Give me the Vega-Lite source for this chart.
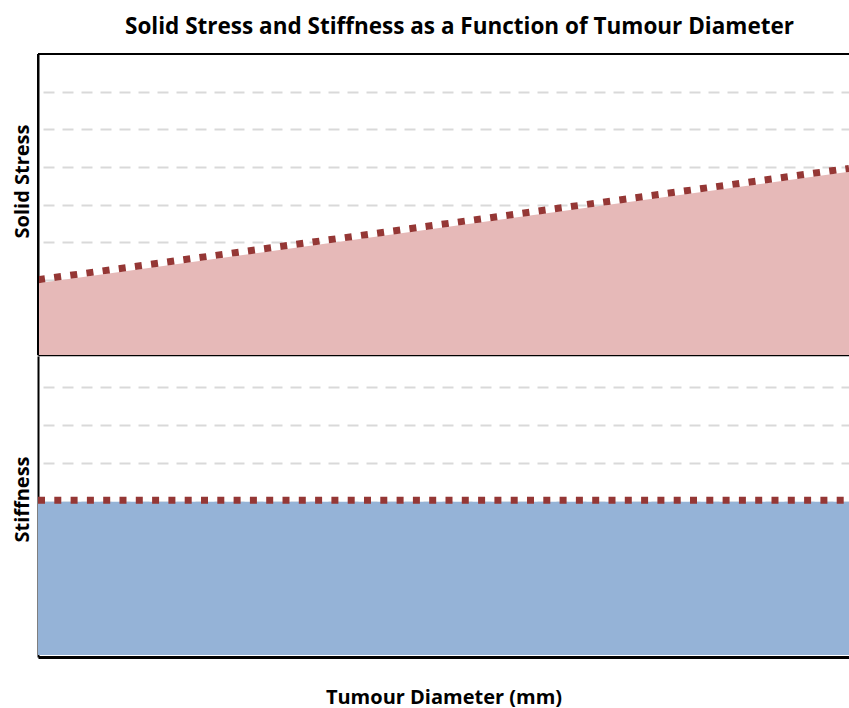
{
  "$schema": "https://vega.github.io/schema/vega-lite/v6.json",
  "padding": {"left": 12, "top": 15, "right": 0, "bottom": 0},
  "background": "white",
  "config": {
    "view": {"stroke": null},
    "font": "Open Sans",
    "concat": {"spacing": 0}
  },
  "title": {
    "text": "Solid Stress and Stiffness as a Function of Tumour Diameter",
    "fontSize": 22.5,
    "fontWeight": "bold",
    "color": "black",
    "font": "Open Sans",
    "anchor": "middle",
    "dx": 22,
    "offset": 15
  },
  "datasets": {
    "stress": [
      {"diameter": 0, "fill": 1.91, "trend": 2.0},
      {"diameter": 10, "fill": 4.87, "trend": 4.96}
    ],
    "stiffness": [
      {"diameter": 0, "fill": 4.0, "trend": 4.04},
      {"diameter": 10, "fill": 4.0, "trend": 4.04}
    ]
  },
  "vconcat": [
    {
      "width": 811,
      "height": 301,
      "data": {"name": "stress"},
      "layer": [
        {
          "mark": {"type": "area", "color": "#E6B9B8", "opacity": 1},
          "encoding": {
            "x": {
              "field": "diameter", "type": "quantitative",
              "scale": {"domain": [0, 10], "nice": false},
              "axis": {"title": null, "labels": false, "ticks": false, "grid": false, "domainColor": "black", "domainWidth": 1.5}
            },
            "y": {
              "field": "fill", "type": "quantitative",
              "scale": {"domain": [0, 8], "nice": false},
              "axis": {
                "title": "Solid Stress", "titleFontSize": 20, "titleFontWeight": "bold", "titleColor": "black",
                "titleX": -10, "titleY": 127, "titleAngle": -90, "titleBaseline": "alphabetic",
                "labels": false, "ticks": false,
                "domainColor": "black", "domainWidth": 2,
                "values": [1, 2, 3, 4, 5, 6, 7],
                "grid": true, "gridColor": "#D9D9D9", "gridWidth": 2, "gridDash": [11, 8], "gridDashOffset": 14
              }
            }
          }
        },
        {
          "mark": {"type": "line", "color": "#953735", "strokeWidth": 7, "strokeDash": [7, 9.3], "strokeCap": "butt"},
          "encoding": {
            "x": {"field": "diameter", "type": "quantitative"},
            "y": {"field": "trend", "type": "quantitative"}
          }
        },
        {
          "mark": {"type": "rule", "color": "black", "strokeWidth": 2},
          "encoding": {"y": {"datum": 8}}
        },
        {
          "mark": {"type": "rule", "color": "black", "strokeWidth": 2},
          "encoding": {"x": {"datum": 0}}
        }
      ]
    },
    {
      "width": 811,
      "height": 301,
      "data": {"name": "stiffness"},
      "layer": [
        {
          "mark": {"type": "area", "color": "#95B3D7", "opacity": 1},
          "encoding": {
            "x": {
              "field": "diameter", "type": "quantitative",
              "scale": {"domain": [0, 10], "nice": false},
              "axis": {"title": "Tumour Diameter (mm)", "titleFontSize": 20, "titleFontWeight": "bold", "titleColor": "black", "titlePadding": 30,
                "labels": false, "ticks": false, "grid": false, "domainColor": "black", "domainWidth": 3}
            },
            "y": {
              "field": "fill", "type": "quantitative",
              "scale": {"domain": [-0.05, 7.8], "nice": false, "zero": false},
              "axis": {
                "title": "Stiffness", "titleFontSize": 20, "titleFontWeight": "bold", "titleColor": "black",
                "titleX": -10, "titleY": 143, "titleAngle": -90, "titleBaseline": "alphabetic",
                "labels": false, "ticks": false,
                "domainColor": "black", "domainWidth": 2,
                "values": [1, 2, 3, 4, 5, 6, 7],
                "grid": true, "gridColor": "#D9D9D9", "gridWidth": 2, "gridDash": [11, 8], "gridDashOffset": 14
              }
            }
          }
        },
        {
          "mark": {"type": "line", "color": "#953735", "strokeWidth": 7, "strokeDash": [7, 9.3], "strokeCap": "butt"},
          "encoding": {
            "x": {"field": "diameter", "type": "quantitative"},
            "y": {"field": "trend", "type": "quantitative"}
          }
        }
      ]
    }
  ]
}
